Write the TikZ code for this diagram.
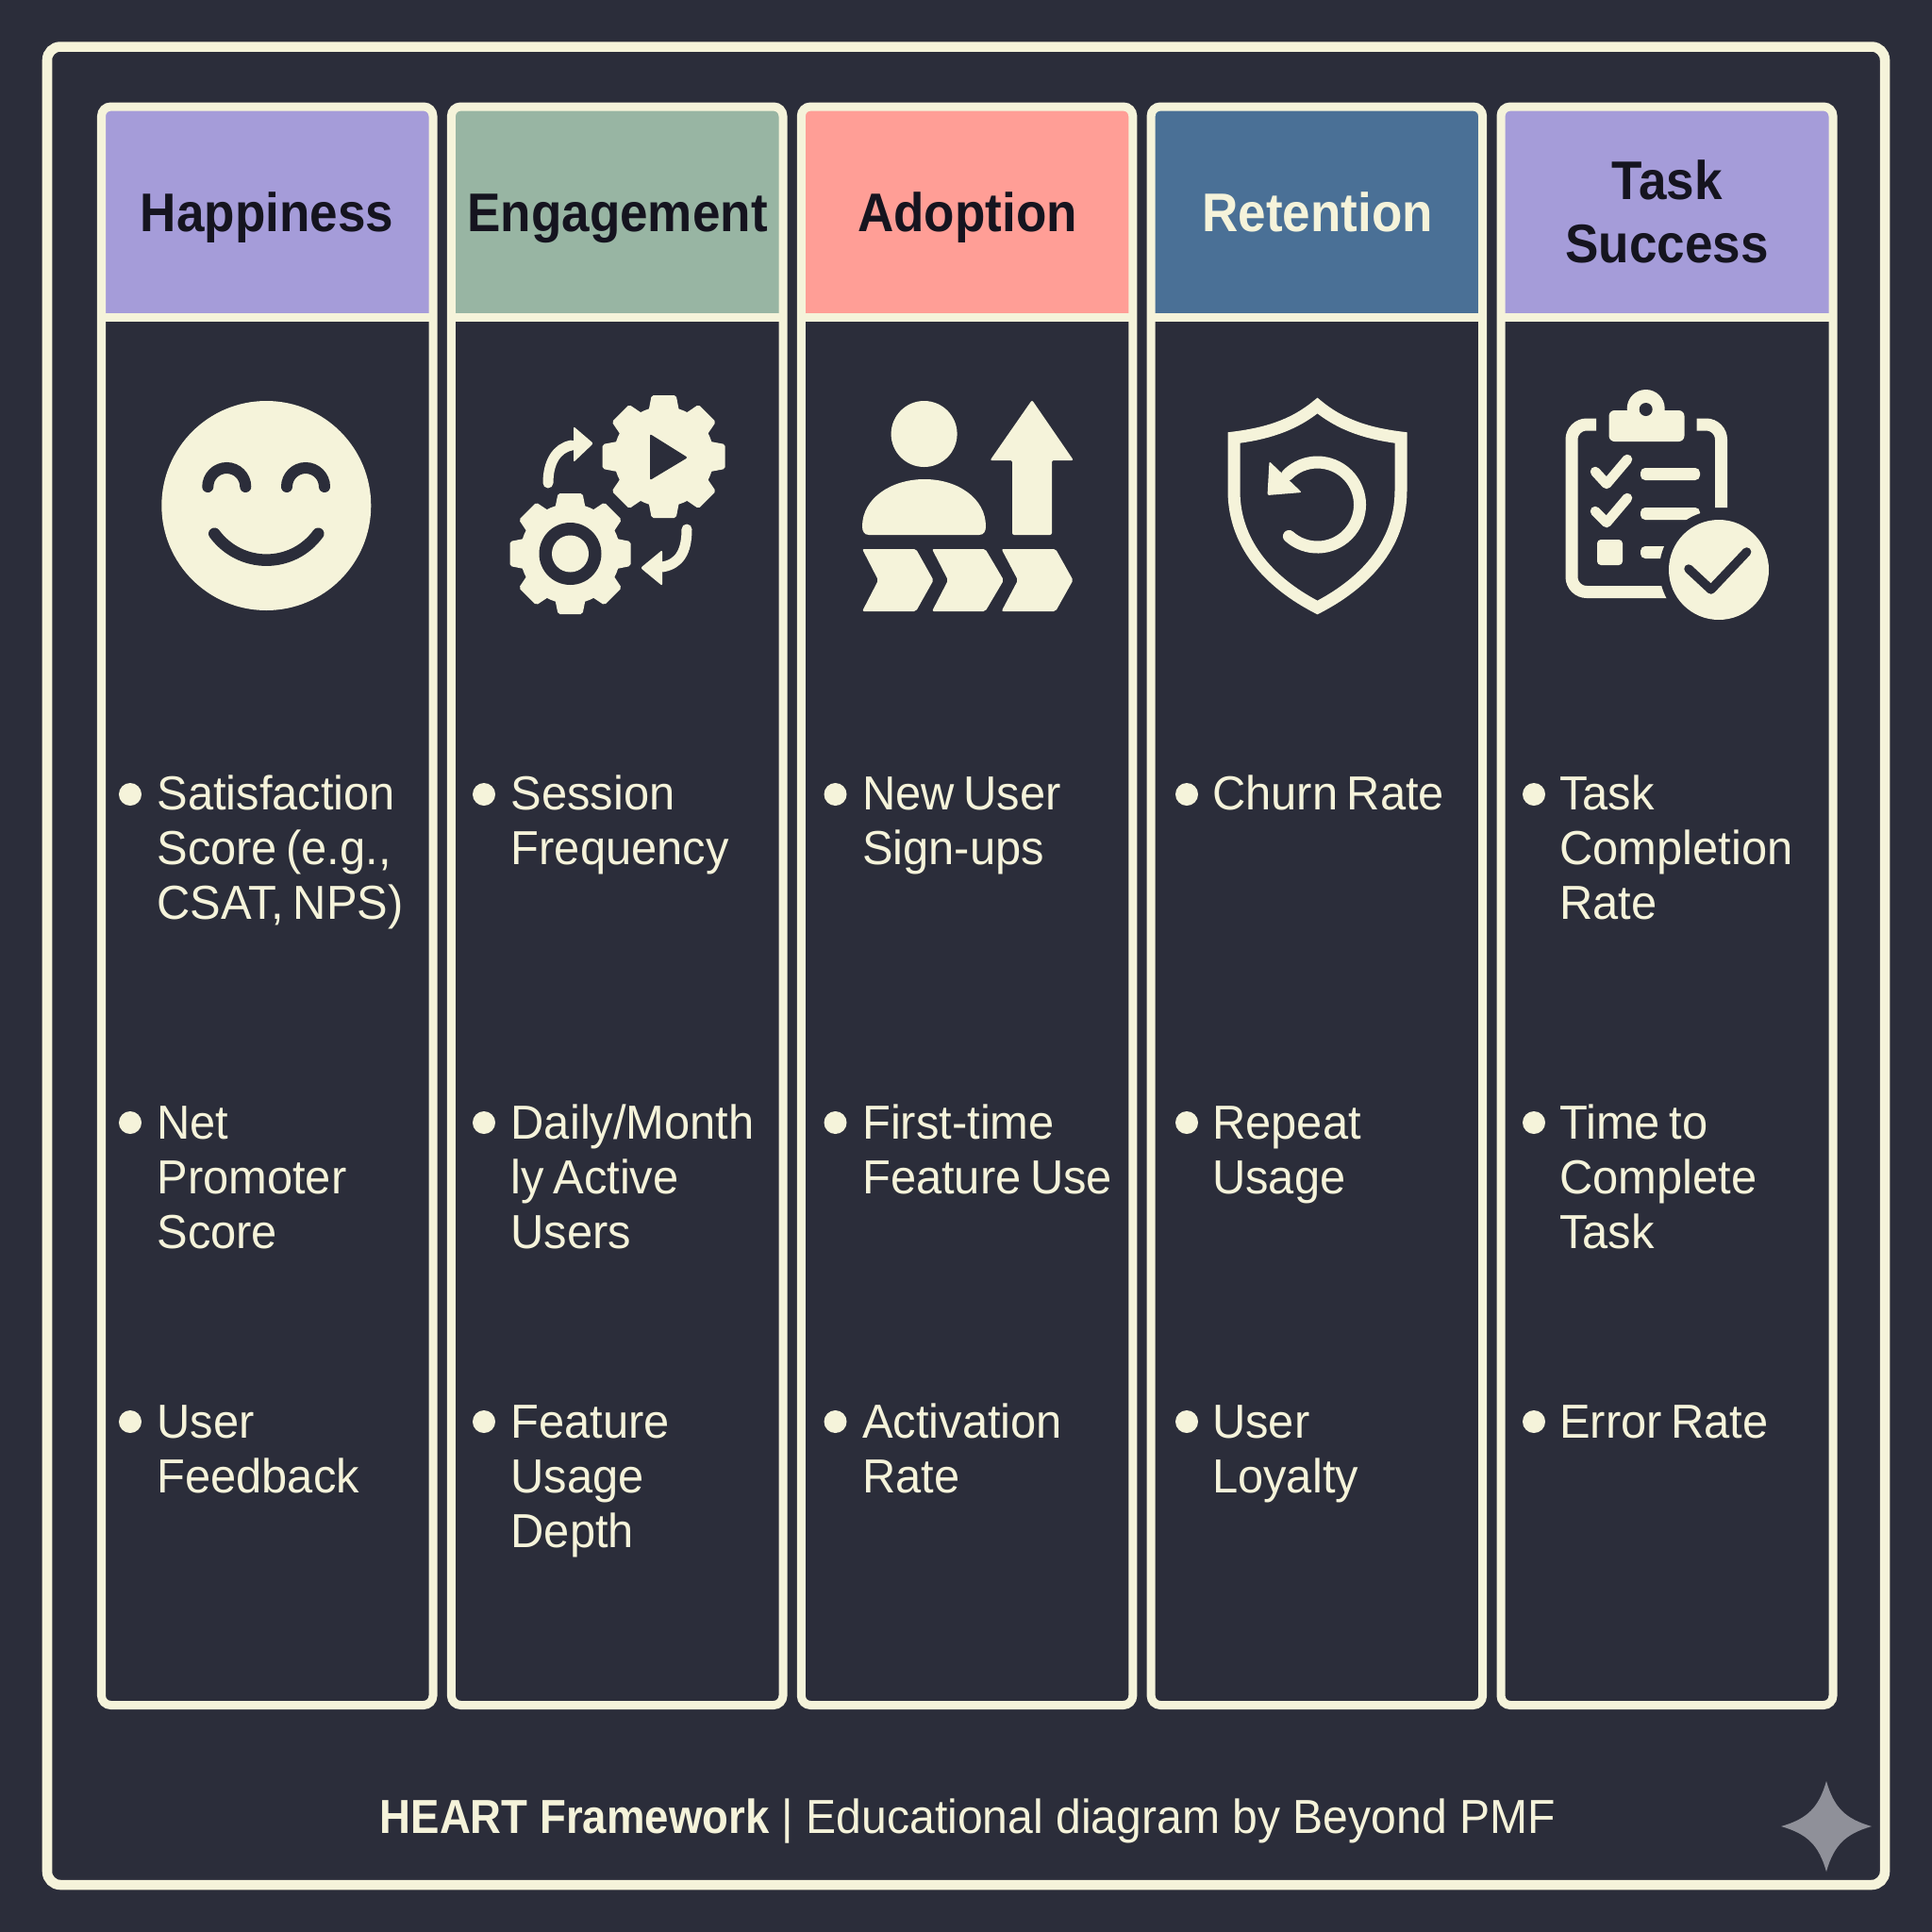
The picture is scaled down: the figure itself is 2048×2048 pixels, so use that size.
\documentclass[tikz,border=0pt]{standalone}
\usepackage{fontspec}
\setmainfont[FakeStretch=0.965,WordSpace=0.7]{Liberation Sans}
\newfontfamily\footreg[FakeStretch=0.95]{Liberation Sans}
\newfontfamily\headfont[FakeStretch=0.92]{Liberation Sans Bold}
\newfontfamily\footfont[FakeStretch=0.9]{Liberation Sans Bold}
\definecolor{darkbg}{HTML}{2B2D3A}
\definecolor{cream}{HTML}{F5F3DA}
\definecolor{headpurple}{HTML}{A59CD9}
\definecolor{headgreen}{HTML}{98B5A3}
\definecolor{headpink}{HTML}{FF9E96}
\definecolor{headblue}{HTML}{4A7096}
\definecolor{headink}{HTML}{15141F}
\definecolor{sparkgrey}{HTML}{8F9099}
\tikzset{
  colline/.style={draw=cream,line width=0.09cm,rounded corners=0.1cm},
  headtop/.style={rounded corners=0.1cm},
  headtext/.style={font=\headfont\fontsize{16.4}{19.3}\selectfont,anchor=base,align=center,text width=3.4cm,inner sep=0pt,text=headink},
  itemtext/.style={font=\fontsize{14.4}{16.5}\selectfont,anchor=base west,align=flush left,text width=3.2cm,inner sep=0pt,text=cream},
  itemdot/.style={circle,fill=cream,minimum size=0.24cm,inner sep=0pt},
  iconline/.style={draw=cream,line cap=round,line join=round},
  softcorner/.style={rounded corners=0.02cm}
}
\begin{document}
\begin{tikzpicture}[x=0.01cm,y=-0.01cm]
\useasboundingbox (0,0) rectangle (2048,2048);
\fill [darkbg] (0,0) rectangle (2048,2048);
\draw [cream,line width=0.105cm,rounded corners=0.14cm] (50,49.5) rectangle (1998,1998);
% header bands
\fill [headpurple,headtop] (107.5,336.5) -- (107.5,113) -- (459,113) -- (459,336.5) -- cycle;
\fill [headgreen,headtop] (478.4,336.5) -- (478.4,113) -- (830,113) -- (830,336.5) -- cycle;
\fill [headpink,headtop] (849.3,336.5) -- (849.3,113) -- (1200.8,113) -- (1200.8,336.5) -- cycle;
\fill [headblue,headtop] (1220.1,336.5) -- (1220.1,113) -- (1571.6,113) -- (1571.6,336.5) -- cycle;
\fill [headpurple,headtop] (1591,336.5) -- (1591,113) -- (1943,113) -- (1943,336.5) -- cycle;
% columns
\draw [colline] (107.5,113) rectangle (459,1807.5);
\draw [colline] (478.4,113) rectangle (830,1807.5);
\draw [colline] (849.3,113) rectangle (1200.8,1807.5);
\draw [colline] (1220.1,113) rectangle (1571.6,1807.5);
\draw [colline] (1591,113) rectangle (1943,1807.5);
\draw [cream,line width=0.09cm] (107.5,336.5) -- (459,336.5);
\draw [cream,line width=0.09cm] (478.4,336.5) -- (830,336.5);
\draw [cream,line width=0.09cm] (849.3,336.5) -- (1200.8,336.5);
\draw [cream,line width=0.09cm] (1220.1,336.5) -- (1571.6,336.5);
\draw [cream,line width=0.09cm] (1591,336.5) -- (1943,336.5);
% titles
\node [headtext] (happiness) at (283,245) {Happiness};
\node [headtext] (engagement) at (654.5,245) {Engagement};
\node [headtext] (adoption) at (1025.5,245) {Adoption};
\node [headtext,text=cream] (retention) at (1396.5,245) {Retention};
\node [headtext] (tasksuccess) at (1767,211) {Task\\Success};
% smile
\fill [cream] (282.3,536) circle (111);
\draw [darkbg,line width=0.12cm,line cap=round] (220.3,516) arc (180:360:20);
\draw [darkbg,line width=0.12cm,line cap=round] (304,516) arc (180:360:20);
\draw [darkbg,line width=0.125cm,line cap=round] (227.3,565.7) .. controls (255,603) and (310,603) .. (337.3,565.7);
% gears
\foreach \a in {0,45,...,315} {
  \fill [cream,softcorner,rotate around={\a:(703.7,484)}] (686.7,440) -- (690.7,419) -- (716.7,419) -- (720.7,440) -- cycle;
  \fill [cream,softcorner,rotate around={\a:(604.5,587)}] (587.5,543) -- (591.5,523) -- (617.5,523) -- (621.5,543) -- cycle;
}
\fill [cream] (703.7,484) circle (53);
\fill [darkbg,softcorner] (689,460) -- (729,485) -- (689,509) -- cycle;
\fill [cream] (604.5,587) circle (53);
\fill [darkbg] (604.5,587) circle (33);
\fill [cream] (604.5,587) circle (19.5);
\draw [iconline,line width=0.11cm] (581,512) .. controls (581,490) and (590,475) .. (606,472);
\fill [cream,softcorner] (608,452) -- (629,470) -- (608,490) -- cycle;
\draw [iconline,line width=0.11cm] (728,561) .. controls (728,585) and (720,598) .. (702,601);
\fill [cream,softcorner] (702,583) -- (679,602) -- (702,621) -- cycle;
% person, arrow, chevrons
\fill [cream] (979.6,460) circle (35);
\fill [cream] (921,567) .. controls (916,567) and (914,563) .. (914,558) .. controls (914,528) and (945,508) .. (980,508) .. controls (1015,508) and (1045,528) .. (1045,558) .. controls (1045,563) and (1043,567) .. (1038,567) -- cycle;
\fill [cream,softcorner] (1094,424) -- (1138,488) -- (1115,488) -- (1115,567) -- (1073,567) -- (1073,488) -- (1049.5,488) -- cycle;
\fill [cream,softcorner] (914,582) -- (971,582) -- (989.5,615) -- (971,648) -- (914,648) -- (931,615) -- cycle;
\fill [cream,softcorner] (988,582) -- (1044.5,582) -- (1064,615) -- (1044.5,648) -- (988,648) -- (1005,615) -- cycle;
\fill [cream,softcorner] (1061.6,582) -- (1119,582) -- (1137.5,615) -- (1119,648) -- (1061.6,648) -- (1079,615) -- cycle;
% shield
\draw [cream,line width=0.13cm,line join=miter] (1396.5,430) .. controls (1370,452) and (1340,460) .. (1308,464) -- (1308,520) .. controls (1308,580) and (1350,620) .. (1396.5,644) .. controls (1443,620) and (1485,580) .. (1485,520) -- (1485,464) .. controls (1453,460) and (1423,452) .. (1396.5,430) -- cycle;
\draw [iconline,line width=0.13cm] (1364.7,503.2) arc (225:492:45);
\fill [cream,softcorner] (1345.5,489) -- (1343.5,525) -- (1380,522) -- cycle;
% clipboard
\draw [cream,line width=0.13cm,rounded corners=0.16cm] (1692,450) -- (1666,450) -- (1666,627.5) -- (1790,627.5);
\draw [cream,line width=0.13cm,rounded corners=0.16cm] (1798.5,450) -- (1824.5,450) -- (1824.5,538);
\fill [cream] (1744.7,433) circle (20);
\fill [cream,rounded corners=0.06cm] (1705.5,435) rectangle (1785.5,468);
\fill [darkbg] (1744.7,434) circle (7);
\draw [iconline,line width=0.105cm] (1691,500) -- (1703,513) -- (1725,487);
\draw [iconline,line width=0.105cm] (1691,542) -- (1703,554) -- (1725,528);
\fill [cream,rounded corners=0.05cm] (1739,496) rectangle (1802,509);
\fill [cream,rounded corners=0.05cm] (1739,538) rectangle (1802,551);
\fill [cream,rounded corners=0.04cm] (1693,572) rectangle (1720,599);
\fill [cream,rounded corners=0.05cm] (1739,579) rectangle (1790,592);
\fill [darkbg] (1822,604) circle (63);
\fill [cream] (1822,604) circle (53);
\draw [darkbg,line width=0.095cm,line cap=round,line join=round] (1790,603) -- (1813.7,625) -- (1851.6,585);
% items, first row
\node [itemdot] (dot11) at (138,842) {};
\node [itemtext] (item11) at (165.7,858) {Satisfaction\\Score (e.g.,\\CSAT, NPS)};
\node [itemdot] (dot21) at (513,842) {};
\node [itemtext] (item21) at (541,858) {Session\\Frequency};
\node [itemdot] (dot31) at (885.5,842) {};
\node [itemtext] (item31) at (913.5,858) {New User\\Sign-ups};
\node [itemdot] (dot41) at (1258,842) {};
\node [itemtext] (item41) at (1284.5,858) {Churn Rate};
\node [itemdot] (dot51) at (1626,842) {};
\node [itemtext] (item51) at (1652.5,858) {Task\\Completion\\Rate};
% second row
\node [itemdot] (dot12) at (138,1190) {};
\node [itemtext] (item12) at (165.7,1207) {Net\\Promoter\\Score};
\node [itemdot] (dot22) at (513,1190) {};
\node [itemtext] (item22) at (541,1207) {Daily/Month\\ly Active\\Users};
\node [itemdot] (dot32) at (885.5,1190) {};
\node [itemtext] (item32) at (913.5,1207) {First-time\\Feature Use};
\node [itemdot] (dot42) at (1258,1190) {};
\node [itemtext] (item42) at (1284.5,1207) {Repeat\\Usage};
\node [itemdot] (dot52) at (1626,1190) {};
\node [itemtext] (item52) at (1652.5,1207) {Time to\\Complete\\Task};
% third row
\node [itemdot] (dot13) at (138,1507) {};
\node [itemtext] (item13) at (165.7,1524) {User\\Feedback};
\node [itemdot] (dot23) at (513,1507) {};
\node [itemtext] (item23) at (541,1524) {Feature\\Usage\\Depth};
\node [itemdot] (dot33) at (885.5,1507) {};
\node [itemtext] (item33) at (913.5,1524) {Activation\\Rate};
\node [itemdot] (dot43) at (1258,1507) {};
\node [itemtext] (item43) at (1284.5,1524) {User\\Loyalty};
\node [itemdot] (dot53) at (1626,1507) {};
\node [itemtext] (item53) at (1652.5,1524) {Error Rate};
% footer
\node [anchor=base west,inner sep=0pt,text=cream,font=\footreg\fontsize{14.4}{16.5}\selectfont] (footer) at (402,1943) {{\footfont HEART Framework} | Educational diagram by Beyond PMF};
\fill [sparkgrey] (1936,1888) .. controls (1944,1916) and (1956,1928) .. (1984,1936) .. controls (1956,1944) and (1944,1956) .. (1936,1984) .. controls (1928,1956) and (1916,1944) .. (1888,1936) .. controls (1916,1928) and (1928,1916) .. (1936,1888);
\end{tikzpicture}
\end{document}
